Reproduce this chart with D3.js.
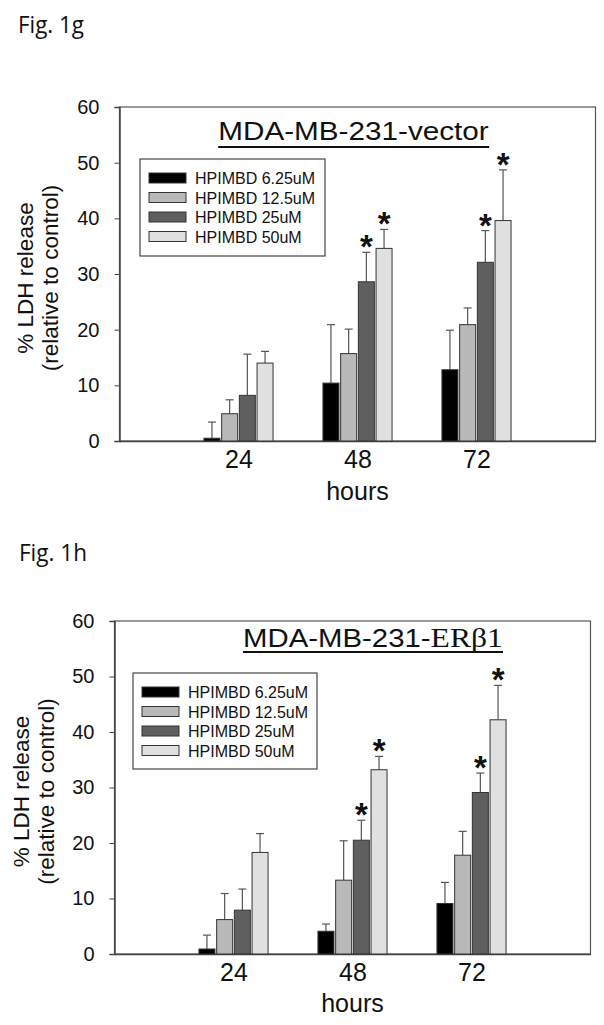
<!DOCTYPE html>
<html>
<head>
<meta charset="utf-8">
<script src="https://cdn.jsdelivr.net/npm/d3@7"></script>
<style>
  body { margin: 0; background: #fff; }
  svg { display: block; }
  text { font-family: Arial, "Liberation Sans", sans-serif; fill: #111; }
</style>
</head>
<body>
<svg id="fig" width="604" height="1025"></svg>
<script>
// hours on the x axis, dose series in legend order
const hours = [24, 48, 72];
const doses = ["HPIMBD 6.25uM", "HPIMBD 12.5uM", "HPIMBD 25uM", "HPIMBD 50uM"];
const yTicks = [0, 10, 20, 30, 40, 50, 60];

// Fig. 1g - MDA-MB-231-vector (rows = dose, cols = hours)
const vectorMeans = [
  [0.5, 10.4, 12.8],
  [4.9, 15.7, 20.9],
  [8.2, 28.6, 32.1],
  [14.0, 34.6, 39.6]
];
const vectorErr = [
  [2.9, 10.5, 7.1],
  [2.5, 4.4, 3.0],
  [7.4, 5.3, 5.7],
  [2.1, 3.4, 9.1]
];
const vectorStars = [[2, 1], [3, 1], [2, 2], [3, 2]]; // [dose, hour index]

// Fig. 1h - MDA-MB-231-ERβ1
const erMeans = [
  [0.9, 4.1, 9.1],
  [6.2, 13.3, 17.8],
  [7.9, 20.5, 29.1],
  [18.3, 33.2, 42.2]
];
const erErr = [
  [2.5, 1.3, 3.8],
  [4.7, 7.1, 4.3],
  [3.8, 3.6, 3.5],
  [3.4, 2.4, 6.2]
];
const erStars = [[2, 1], [3, 1], [2, 2], [3, 2]];

const fills = ["#000000", "#b9b9b9", "#5f5f5f", "#e0e0e0"];

const svg = d3.select("#fig");

// squeeze/stretch an element horizontally to a target width around cx
function fitWidth(sel, cx, w) {
  const bb = sel.node().getBBox();
  const s = w / bb.width;
  sel.attr("transform", `translate(${cx},0) scale(${s},1) translate(${-cx},0)`);
}

function drawPanel(cfg) {
  const g = svg.append("g");
  const x = d3.scaleLinear().domain([0, 96]).range([cfg.left, cfg.right]);
  const y = d3.scaleLinear().domain([0, 60]).range([cfg.bottom, cfg.top]);
  const barW = 16, step = 17.7;

  // figure label
  const fl = svg.append("text").attr("x", cfg.figX).attr("y", cfg.figY)
    .style("font-family", "'Open Sans', 'Noto Sans', sans-serif")
    .attr("font-size", 24).text(cfg.fig);
  fitWidth(fl, cfg.figX, cfg.figW);

  // frame
  g.append("rect").attr("x", cfg.left).attr("y", cfg.top)
    .attr("width", cfg.right - cfg.left).attr("height", cfg.bottom - cfg.top)
    .attr("fill", "none").attr("stroke", "#555").attr("stroke-width", 1.2);

  // y axis
  const ya = g.append("g").attr("transform", `translate(${cfg.left},0)`)
    .call(d3.axisLeft(y).tickValues(yTicks).tickSize(5).tickPadding(15));
  ya.select(".domain").attr("stroke", "#444").attr("stroke-width", 1.5);
  ya.selectAll(".tick line").attr("stroke", "#444");
  ya.selectAll("text").attr("font-size", 20).style("fill", "#111")
    .style("font-family", "Arial, 'Liberation Sans', sans-serif");

  // x axis
  const xa = g.append("g").attr("transform", `translate(0,${cfg.bottom})`)
    .call(d3.axisBottom(x).tickValues(hours).tickSize(0).tickPadding(9));
  xa.select(".domain").attr("stroke", "#444").attr("stroke-width", 1.5);
  xa.selectAll("text").attr("font-size", 25).style("fill", "#111")
    .style("font-family", "Arial, 'Liberation Sans', sans-serif");

  g.append("text").attr("x", x(48)).attr("y", cfg.bottom + cfg.hoursDy)
    .attr("text-anchor", "middle").attr("font-size", 25).text("hours");

  // y label
  const cy = (cfg.top + cfg.bottom) / 2 + 4;
  const yl = g.append("text").attr("transform", `translate(${cfg.ylabX},${cy}) rotate(-90)`)
    .attr("text-anchor", "middle").attr("font-size", 22.5);
  yl.append("tspan").attr("x", 0).attr("dy", 0).text("% LDH release");
  yl.append("tspan").attr("x", 0).attr("dy", 25).text("(relative to control)");

  // bars
  const rows = [];
  cfg.means.forEach((row, i) => row.forEach((v, j) => {
    rows.push({ i, j, v, e: cfg.err[i][j] });
  }));
  const bx = d => x(hours[d.j]) + (d.i - 1.5) * step - barW / 2;

  g.append("g").selectAll("line").data(rows).join("line")
    .attr("x1", d => bx(d) + barW / 2).attr("x2", d => bx(d) + barW / 2)
    .attr("y1", d => y(d.v)).attr("y2", d => y(d.v + d.e))
    .attr("stroke", "#555").attr("stroke-width", 1.2);
  g.append("g").selectAll("line").data(rows).join("line")
    .attr("x1", d => bx(d) + barW / 2 - 4).attr("x2", d => bx(d) + barW / 2 + 4)
    .attr("y1", d => y(d.v + d.e)).attr("y2", d => y(d.v + d.e))
    .attr("stroke", "#555").attr("stroke-width", 1.2);

  g.append("g").selectAll("rect").data(rows).join("rect")
    .attr("x", bx).attr("width", barW)
    .attr("y", d => y(d.v)).attr("height", d => y(0) - y(d.v))
    .attr("fill", d => fills[d.i]).attr("stroke", "#333").attr("stroke-width", 1);

  // significance stars
  g.append("g").selectAll("text").data(cfg.stars).join("text")
    .attr("x", d => x(hours[d[1]]) + (d[0] - 1.5) * step)
    .attr("y", d => y(cfg.means[d[0]][d[1]] + cfg.err[d[0]][d[1]]) + 6)
    .attr("text-anchor", "middle").attr("font-size", 33).attr("font-weight", "bold")
    .text("*");

  // title, underlined
  const tg = g.append("g");
  const t = tg.append("text").attr("x", cfg.titleX).attr("y", cfg.titleY)
    .attr("text-anchor", "middle").attr("font-size", 26);
  cfg.titleParts.forEach(p => {
    const ts = t.append("tspan").text(p.text);
    if (p.serif) ts.style("font-family", "'Liberation Serif', 'Times New Roman', serif").attr("font-size", 28);
  });
  const bb = t.node().getBBox();
  tg.append("line").attr("x1", bb.x).attr("x2", bb.x + bb.width)
    .attr("y1", cfg.titleY + cfg.ulDy).attr("y2", cfg.titleY + cfg.ulDy)
    .attr("stroke", "#111").attr("stroke-width", 2);
  fitWidth(tg, cfg.titleX, cfg.titleW);

  // legend
  const L = cfg.legend;
  g.append("rect").attr("x", L.x).attr("y", L.y).attr("width", L.w).attr("height", L.h)
    .attr("fill", "#fff").attr("stroke", "#444").attr("stroke-width", 1.2);
  const li = g.append("g").selectAll("g").data(doses).join("g")
    .attr("transform", (d, i) => `translate(${L.x + 9},${L.y + 19 + i * 19.5})`);
  li.append("rect").attr("x", 0).attr("y", -5).attr("width", 37).attr("height", 10)
    .attr("fill", (d, i) => fills[i]).attr("stroke", "#333").attr("stroke-width", 1);
  li.append("text").attr("x", 46).attr("y", 6)
    .attr("font-size", 16).text(d => d);
}

drawPanel({
  fig: "Fig. 1g", figX: 18, figY: 33, figW: 66,
  left: 119.5, right: 595.5, top: 107, bottom: 441, hoursDy: 59,
  ylabX: 33,
  means: vectorMeans, err: vectorErr, stars: vectorStars,
  titleX: 353.5, titleY: 140, titleW: 271, ulDy: 7,
  titleParts: [{ text: "MDA-MB-231-vector" }],
  legend: { x: 140, y: 159, w: 185, h: 97 }
});

drawPanel({
  fig: "Fig. 1h", figX: 19, figY: 561, figW: 68,
  left: 114.5, right: 590.5, top: 621, bottom: 954, hoursDy: 58,
  ylabX: 29,
  means: erMeans, err: erErr, stars: erStars,
  titleX: 373, titleY: 647, titleW: 260, ulDy: 5,
  titleParts: [{ text: "MDA-MB-231-" }, { text: "ERβ1", serif: true }],
  legend: { x: 133, y: 673, w: 184, h: 96 }
});
</script>
</body>
</html>
